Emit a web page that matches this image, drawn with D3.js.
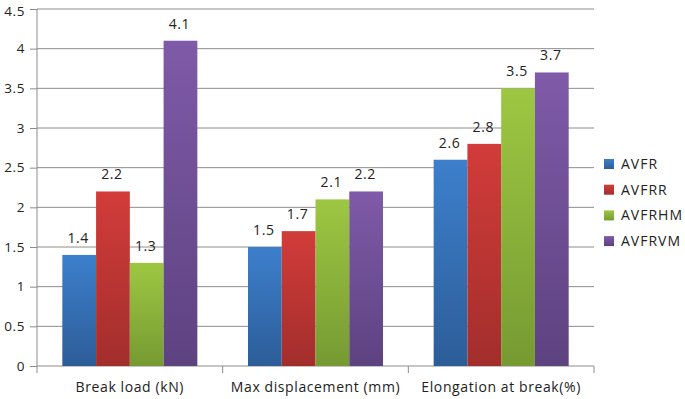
<!DOCTYPE html>
<html>
<head>
<meta charset="utf-8">
<script src="https://cdn.jsdelivr.net/npm/d3@7"></script>
<style>
  body { margin: 0; background: #fff; }
  text { font-family: "Open Sans", "Liberation Sans", sans-serif; fill: #222; letter-spacing: 0.6px; }
</style>
</head>
<body>
<div id="chart"></div>
<script>
var categories = ["Break load (kN)", "Max displacement (mm)", "Elongation at break(%)"];
var seriesNames = ["AVFR", "AVFRR", "AVFRHM", "AVFRVM"];
var AVFR = [1.4, 1.5, 2.6];
var AVFRR = [2.2, 1.7, 2.8];
var AVFRHM = [1.3, 2.1, 3.5];
var AVFRVM = [4.1, 2.2, 3.7];
var yTicks = [0, 0.5, 1, 1.5, 2, 2.5, 3, 3.5, 4, 4.5];

var seriesValues = [AVFR, AVFRR, AVFRHM, AVFRVM];
var colorsTop = ["#3d7fcc", "#d23c3a", "#9dc742", "#7f5aa8"];
var colorsBottom = ["#2c5d98", "#a22e2c", "#769a32", "#5d4280"];

var width = 685, height = 399;
var margin = { left: 37, right: 91, top: 9, bottom: 33 };

var svg = d3.select("#chart").append("svg")
    .attr("width", width)
    .attr("height", height);

var defs = svg.append("defs");
seriesNames.forEach(function (s, i) {
    var g = defs.append("linearGradient")
        .attr("id", "grad" + i)
        .attr("x1", 0).attr("y1", 0).attr("x2", 0).attr("y2", 1);
    g.append("stop").attr("offset", "0%").attr("stop-color", colorsTop[i]);
    g.append("stop").attr("offset", "100%").attr("stop-color", colorsBottom[i]);
});

var x0 = d3.scaleBand()
    .domain(categories)
    .range([margin.left, width - margin.right])
    .paddingInner(0)
    .paddingOuter(0);

var x1 = d3.scaleBand()
    .domain(seriesNames)
    .range([0, x0.bandwidth()])
    .paddingOuter(0.75)
    .paddingInner(0);

var y = d3.scaleLinear()
    .domain([0, 4.5])
    .range([height - margin.bottom, margin.top]);

// gridlines
svg.append("g")
    .selectAll("line")
    .data(yTicks.filter(function (d) { return d > 0; }))
    .enter().append("line")
    .attr("x1", margin.left)
    .attr("x2", width - margin.right)
    .attr("y1", function (d) { return y(d); })
    .attr("y2", function (d) { return y(d); })
    .attr("stroke", "#8c8c8c")
    .attr("stroke-width", 1);

// y axis
var yAxis = svg.append("g")
    .attr("transform", "translate(" + margin.left + ",0)")
    .call(d3.axisLeft(y).tickValues(yTicks).tickSize(7).tickPadding(5)
        .tickFormat(function (d) { return d; }));
yAxis.selectAll("text").style("font-size", "13.5px").attr("fill", "#222");
yAxis.selectAll(".tick").filter(function (d) { return d === 4.5; })
    .select("text").attr("dy", "0.45em");
yAxis.selectAll("line, path").attr("stroke", "#8c8c8c");
yAxis.select(".domain").attr("d", "M0," + y(0) + "V" + y(4.5));

// x axis
var xAxis = svg.append("g")
    .attr("transform", "translate(0," + y(0) + ")");
xAxis.append("line")
    .attr("x1", margin.left).attr("x2", width - margin.right)
    .attr("stroke", "#8c8c8c");
var boundaries = categories.map(function (c) { return x0(c); })
    .concat([x0(categories[categories.length - 1]) + x0.bandwidth()]);
xAxis.selectAll(".ctick")
    .data(boundaries)
    .enter().append("line")
    .attr("x1", function (d) { return d; })
    .attr("x2", function (d) { return d; })
    .attr("y1", 0).attr("y2", 7)
    .attr("stroke", "#8c8c8c");
xAxis.selectAll(".clabel")
    .data(categories)
    .enter().append("text")
    .attr("x", function (d) { return x0(d) + x0.bandwidth() / 2; })
    .attr("y", 26)
    .attr("text-anchor", "middle")
    .style("font-size", "14px")
    .text(function (d) { return d; });

// bars
var groups = svg.append("g").selectAll("g")
    .data(categories)
    .enter().append("g")
    .attr("transform", function (d) { return "translate(" + x0(d) + ",0)"; });

groups.selectAll("rect")
    .data(function (c, ci) {
        return seriesNames.map(function (s, si) {
            return { series: s, index: si, value: seriesValues[si][ci] };
        });
    })
    .enter().append("rect")
    .attr("x", function (d) { return x1(d.series); })
    .attr("width", x1.bandwidth())
    .attr("y", function (d) { return y(d.value); })
    .attr("height", function (d) { return y(0) - y(d.value); })
    .attr("fill", function (d) { return "url(#grad" + d.index + ")"; });

groups.selectAll("text")
    .data(function (c, ci) {
        return seriesNames.map(function (s, si) {
            return { series: s, index: si, value: seriesValues[si][ci] };
        });
    })
    .enter().append("text")
    .attr("x", function (d) { return x1(d.series) + x1.bandwidth() / 2 - 1; })
    .attr("y", function (d) { return y(d.value) - 12; })
    .attr("text-anchor", "middle")
    .style("font-size", "14px")
    .text(function (d) { return d.value; });

// legend
var legend = svg.append("g")
    .attr("transform", "translate(604,159)");
var item = legend.selectAll("g")
    .data(seriesNames)
    .enter().append("g")
    .attr("transform", function (d, i) { return "translate(0," + (i * 25.7) + ")"; });
item.append("rect")
    .attr("width", 10).attr("height", 10)
    .attr("fill", function (d, i) { return "url(#grad" + i + ")"; });
item.append("text")
    .attr("x", 17).attr("y", 10)
    .style("font-size", "14px")
    .style("letter-spacing", "1px")
    .text(function (d) { return d; });
</script>
</body>
</html>
